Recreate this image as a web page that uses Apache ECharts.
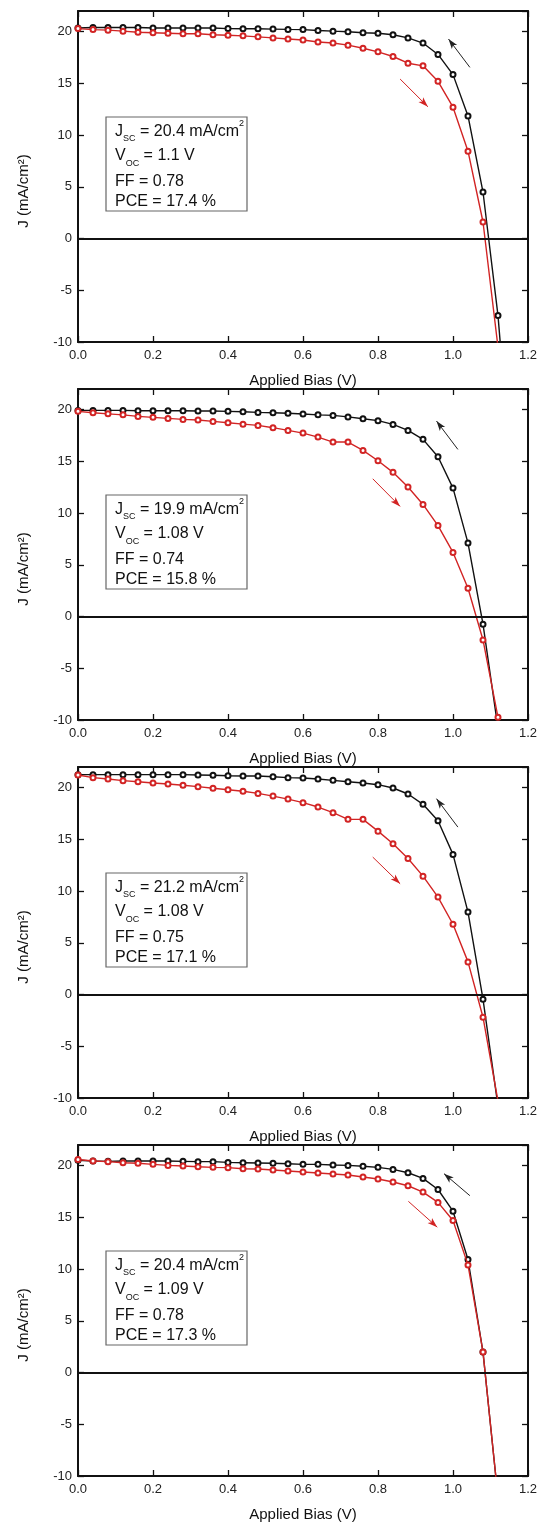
<!DOCTYPE html>
<html><head><meta charset="utf-8">
<script src="https://cdn.jsdelivr.net/npm/echarts@6/dist/echarts.min.js"></script>
<style>html,body{margin:0;padding:0;background:#fff}#c{width:541px;height:1526px}</style>
</head><body><div id="c"></div>
<script>
// ---------- data ----------
const bias = [0.00,0.04,0.08,0.12,0.16,0.20,0.24,0.28,0.32,0.36,0.40,0.44,0.48,0.52,0.56,0.60,0.64,0.68,0.72,0.76,0.80,0.84,0.88,0.92,0.96,1.00,1.04,1.08,1.12,1.16];

// black (reverse scan) and red (forward scan) current densities, mA/cm2
const revP1 = [20.35,20.4,20.4,20.4,20.4,20.35,20.35,20.35,20.35,20.35,20.3,20.28,20.28,20.25,20.22,20.2,20.12,20.05,20.0,19.9,19.85,19.7,19.4,18.9,17.8,15.85,11.85,4.5,-7.45,-25];
const fwdP1 = [20.3,20.2,20.15,20.05,19.95,19.9,19.85,19.8,19.8,19.7,19.65,19.6,19.5,19.4,19.3,19.2,19.0,18.9,18.7,18.4,18.05,17.6,16.95,16.7,15.2,12.7,8.45,1.6,-10.5];

const revP2 = [19.93,19.93,19.93,19.93,19.9,19.9,19.9,19.9,19.87,19.87,19.84,19.8,19.74,19.7,19.65,19.58,19.5,19.45,19.3,19.13,18.94,18.58,18.0,17.13,15.45,12.42,7.1,-0.74,-10.8];
const fwdP2 = [19.84,19.7,19.6,19.5,19.35,19.26,19.16,19.06,19.0,18.87,18.74,18.6,18.48,18.26,18.0,17.74,17.35,16.87,16.87,16.06,15.06,13.94,12.52,10.84,8.8,6.2,2.74,-2.26,-9.74];

const revP3 = [21.26,21.26,21.26,21.26,21.26,21.26,21.26,21.26,21.23,21.2,21.16,21.13,21.13,21.06,20.97,20.94,20.84,20.71,20.58,20.45,20.29,19.97,19.39,18.39,16.8,13.55,7.97,-0.45,-10.8];
const fwdP3 = [21.23,20.97,20.84,20.68,20.58,20.45,20.35,20.23,20.1,19.94,19.8,19.65,19.45,19.19,18.9,18.55,18.13,17.58,16.94,16.94,15.8,14.58,13.16,11.45,9.42,6.8,3.16,-2.19,-10.3];

const revP4 = [20.52,20.45,20.42,20.45,20.45,20.45,20.45,20.42,20.39,20.39,20.32,20.29,20.26,20.23,20.19,20.13,20.13,20.06,20.03,19.94,19.84,19.64,19.32,18.77,17.7,15.6,10.93,1.98,-12.1];
const fwdP4 = [20.6,20.45,20.39,20.29,20.23,20.13,20.03,19.97,19.9,19.84,19.81,19.71,19.68,19.58,19.48,19.39,19.29,19.19,19.1,18.9,18.71,18.42,18.06,17.45,16.45,14.7,10.41,1.98,-12.1];

// scan-direction arrows: [x1, y1, x2, y2] in data units (arrow head at x2,y2)
const arrowRev = [[1.045,16.55,0.988,19.29],[1.013,16.16,0.956,18.9],[1.013,16.19,0.956,18.94],[1.045,17.1,0.976,19.23]];
const arrowFwd = [[0.859,15.42,0.933,12.74],[0.786,13.32,0.859,10.65],[0.786,13.29,0.859,10.71],[0.881,16.55,0.958,14.06]];

// device parameters
const jsc = ['20.4','19.9','21.2','20.4'];
const voc = ['1.1','1.08','1.08','1.09'];
const ff  = ['0.78','0.74','0.75','0.78'];
const pce = ['17.4','15.8','17.1','17.3'];

const revAll = [revP1, revP2, revP3, revP4];
const fwdAll = [fwdP1, fwdP2, fwdP3, fwdP4];

// ---------- layout ----------
const FONT = '"Liberation Sans", Arial, Helvetica, sans-serif';
const TOPS = [11, 389, 767, 1145];
const GL = 78, GW = 450, GH = 331;
const BLACK = '#111111', RED = '#d22424';

const grid = [], xAxis = [], yAxis = [], series = [], graphic = [];
const pair = (arr) => arr.map((v, i) => [bias[i], v]);

const rich = {
  m: {fontSize: 16, lineHeight: 24, fontFamily: FONT, fill: '#111'},
  s: {fontSize: 9, lineHeight: 5, verticalAlign: 'bottom', fontFamily: FONT, fill: '#111'},
  p: {fontSize: 9, lineHeight: 13, verticalAlign: 'top', fontFamily: FONT, fill: '#111'}
};

for (let i = 0; i < 4; i++) {
  grid.push({left: GL, top: TOPS[i], width: GW, height: GH});
  const axLine = {onZero: false, lineStyle: {color: BLACK, width: 2}};
  const axTick = {inside: true, length: 6, lineStyle: {color: BLACK, width: 1.3}};
  xAxis.push({
    gridIndex: i, type: 'value', min: 0, max: 1.2, interval: 0.2, position: 'bottom',
    axisLine: axLine, axisTick: axTick, splitLine: {show: false},
    axisLabel: {margin: 7, fontSize: 13, color: '#222', fontFamily: FONT, formatter: v => v.toFixed(1)},
    name: 'Applied Bias (V)', nameLocation: 'middle', nameGap: 31,
    nameTextStyle: {fontSize: 15, color: '#111', fontFamily: FONT}
  });
  xAxis.push({
    gridIndex: i, type: 'value', min: 0, max: 1.2, interval: 0.2, position: 'top',
    axisLine: axLine, axisTick: axTick, splitLine: {show: false}, axisLabel: {show: false}
  });
  yAxis.push({
    gridIndex: i, type: 'value', min: -10, max: 22, interval: 5, position: 'left',
    axisLine: axLine, axisTick: axTick, splitLine: {show: false},
    axisLabel: {margin: 6, fontSize: 13, color: '#222', fontFamily: FONT, showMaxLabel: false},
    name: 'J (mA/cm²)', nameLocation: 'middle', nameGap: 47, nameRotate: 90,
    nameTextStyle: {fontSize: 15, color: '#111', fontFamily: FONT, padding: [0, 29, 0, 0]}
  });
  yAxis.push({
    gridIndex: i, type: 'value', min: -10, max: 22, interval: 5, position: 'right',
    axisLine: axLine, axisTick: axTick, splitLine: {show: false}, axisLabel: {show: false}
  });

  const ar = arrowRev[i], af = arrowFwd[i];
  series.push({
    type: 'line', xAxisIndex: 2 * i, yAxisIndex: 2 * i, data: pair(revAll[i]),
    symbol: 'emptyCircle', symbolSize: 5, showSymbol: true, clip: true, z: 3,
    lineStyle: {color: BLACK, width: 1.4}, itemStyle: {color: BLACK, borderWidth: 1},
    markLine: {
      silent: true, symbol: ['none', 'none'], label: {show: false},
      lineStyle: {color: BLACK, width: 1.8, type: 'solid'}, itemStyle: {color: BLACK},
      data: [
        {yAxis: 0},
        [{coord: [ar[0], ar[1]], symbol: 'none', lineStyle: {color: '#222', width: 1, type: 'solid'}},
         {coord: [ar[2], ar[3]], symbol: 'arrow', symbolSize: [5, 10]}]
      ]
    }
  });
  series.push({
    type: 'line', xAxisIndex: 2 * i, yAxisIndex: 2 * i, data: pair(fwdAll[i]),
    symbol: 'emptyCircle', symbolSize: 5, showSymbol: true, clip: true, z: 4,
    lineStyle: {color: RED, width: 1.4}, itemStyle: {color: RED, borderWidth: 1},
    markLine: {
      silent: true, symbol: ['none', 'none'], label: {show: false},
      lineStyle: {color: RED, width: 1, type: 'solid'}, itemStyle: {color: RED},
      data: [
        [{coord: [af[0], af[1]], symbol: 'none'},
         {coord: [af[2], af[3]], symbol: 'arrow', symbolSize: [5, 10]}]
      ]
    }
  });

  const bt = TOPS[i] + 106;
  graphic.push({type: 'rect', z: 100, shape: {x: 106, y: bt, width: 141, height: 94},
    style: {fill: '#fff', stroke: '#666', lineWidth: 1.2}});
  const lines = [
    ['{m|J}{s|SC}{m| = ' + jsc[i] + ' mA/cm}{p|2}', 14.5],
    ['{m|V}{s|OC}{m| = ' + voc[i] + ' V}', 39],
    ['{m|FF = ' + ff[i] + '}', 64.5],
    ['{m|PCE = ' + pce[i] + ' %}', 84.5]
  ];
  lines.forEach(([t, dy]) => {
    graphic.push({type: 'text', z: 101, x: 115, y: bt + dy,
      style: {text: t, rich: rich, align: 'left', verticalAlign: 'middle', fill: '#111', font: '16px ' + FONT}});
  });
}

const chart = echarts.init(document.getElementById('c'), null, {renderer: 'canvas'});
chart.setOption({
  animation: false, backgroundColor: '#fff',
  textStyle: {fontFamily: FONT},
  grid, xAxis, yAxis, series, graphic
});
</script>
</body></html>
